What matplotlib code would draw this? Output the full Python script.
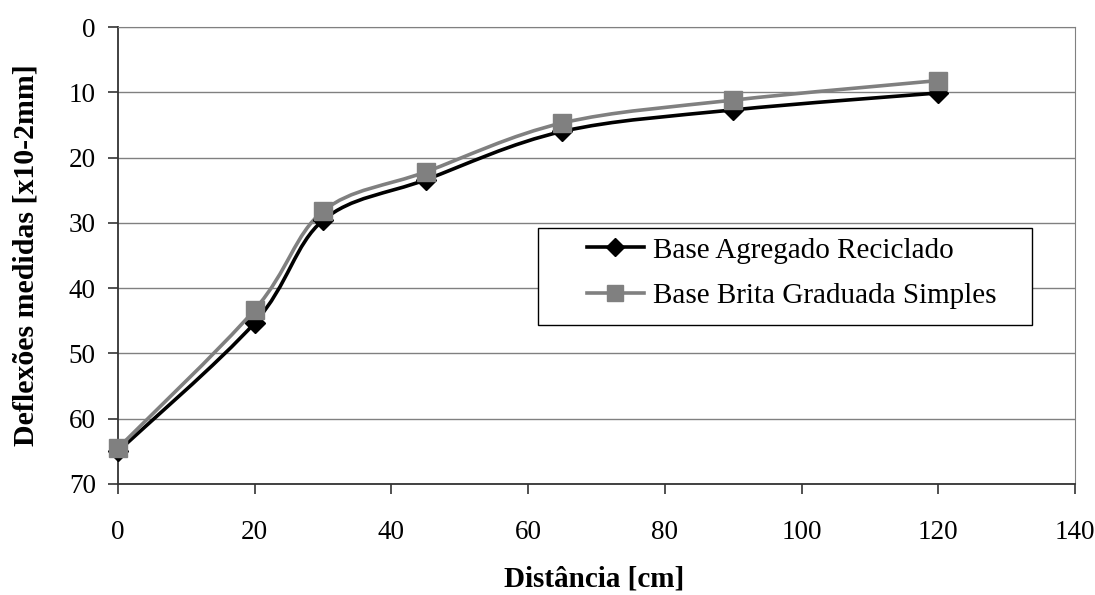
import numpy as np
import matplotlib
matplotlib.use("Agg")
import matplotlib.pyplot as plt
from matplotlib.path import Path
from matplotlib.patches import PathPatch, Rectangle
from matplotlib.lines import Line2D

plt.rcParams['font.family'] = ['Liberation Serif', 'DejaVu Serif']

# data
distancia = [0, 20, 30, 45, 65, 90, 120]
agregado_reciclado = [65.0, 45.3, 29.6, 23.4, 16.0, 12.7, 10.1]
brita_graduada = [64.5, 43.3, 28.2, 22.2, 14.7, 11.2, 8.2]
labels = ['Base Agregado Reciclado', 'Base Brita Graduada Simples']


def smooth_path(ax, xs, ys):
    # Excel-like smoothed line: cubic bezier with Catmull-Rom style control points,
    # computed in display coordinates so it looks like the original
    pts = ax.transData.transform(np.column_stack([xs, ys]))
    n = len(pts)
    verts = [pts[0]]
    codes = [Path.MOVETO]
    for i in range(n - 1):
        p0 = pts[i - 1] if i > 0 else pts[i]
        p1 = pts[i]
        p2 = pts[i + 1]
        p3 = pts[i + 2] if i + 2 < n else pts[i + 1]
        c1 = p1 + (p2 - p0) / 6.0
        c2 = p2 - (p3 - p1) / 6.0
        verts += [c1, c2, p2]
        codes += [Path.CURVE4] * 3
    verts = ax.transData.inverted().transform(np.array(verts))
    return Path(verts, codes)


fig = plt.figure(figsize=(10.95, 5.95), dpi=100)
ax = fig.add_axes([0.1078, 0.1866, 0.8739, 0.768])

ax.set_xlim(0, 140)
ax.set_ylim(70, 0)
ax.set_xticks(range(0, 141, 20))
ax.set_yticks(range(0, 71, 10))
ax.grid(axis='y', color='#808080', lw=1)
ax.set_axisbelow(True)

for s in ['top', 'right']:
    ax.spines[s].set_color('#808080')
for s in ['left', 'bottom']:
    ax.spines[s].set_color('#333333')
    ax.spines[s].set_linewidth(1.3)

ax.tick_params(labelsize=19.5, direction='out', length=7, width=1.2, color='#333333')
ax.tick_params(axis='x', pad=19)
ax.tick_params(axis='y', pad=9)

series = [
    (agregado_reciclado, 'black', 'D', 10),
    (brita_graduada, '#808080', 's', 13),
]
for vals, col, mk, ms in series:
    path = smooth_path(ax, distancia, vals)
    ax.add_patch(PathPatch(path, facecolor='none', edgecolor=col, lw=2.6, zorder=3))
    ax.plot(distancia, vals, ls='none', marker=mk, ms=ms, color=col, zorder=4, clip_on=False)

handles = [Line2D([], [], color=col, lw=2.6, marker=mk, ms=ms - 1, label=lab)
           for (vals, col, mk, ms), lab in zip(series, labels)]

# legend box (white, black edge) and entries
ax.add_patch(Rectangle((0.439, 0.348), 0.516, 0.212, transform=ax.transAxes,
                       facecolor='white', edgecolor='black', lw=1, zorder=5))
leg = ax.legend(handles=handles, loc='upper left', bbox_to_anchor=(0.490, 0.540),
                fontsize=21, frameon=False, handlelength=1.95, handletextpad=0.3,
                borderpad=0, labelspacing=0.66, borderaxespad=0)
leg.set_zorder(6)

ax.set_xlabel('Distância [cm]', fontsize=21, fontweight='bold')
ax.xaxis.set_label_coords(0.497, -0.178)
ax.set_ylabel('Deflexões medidas [x10-2mm]', fontsize=21.5, fontweight='bold')
ax.yaxis.set_label_coords(-0.082, 0.5)

fig.savefig('out.png', dpi=100)
